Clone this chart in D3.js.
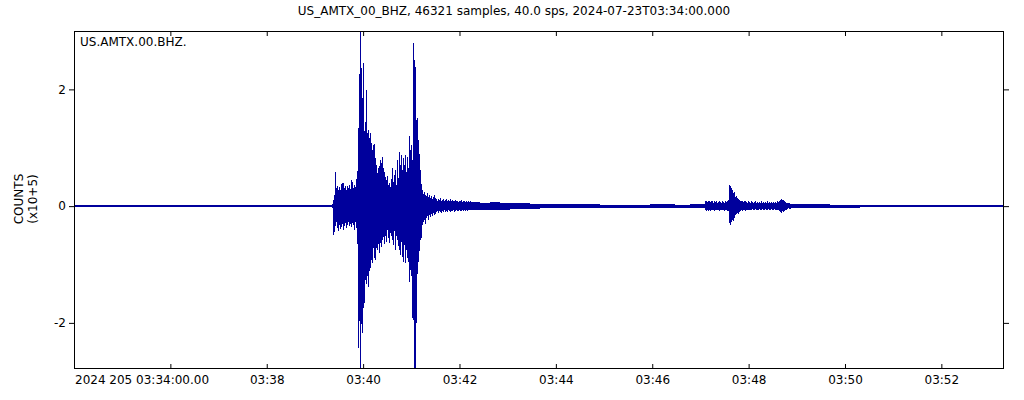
<!DOCTYPE html>
<html>
<head>
<meta charset="utf-8">
<script src="https://cdn.jsdelivr.net/npm/d3@7"></script>
<style>
  body { margin: 0; background: #fff; }
  svg { display: block; font-family: "DejaVu Sans", sans-serif; }
  .axis text { font-size: 12px; fill: #000; }
  .axis line { stroke: #000; }
</style>
</head>
<body>
<svg id="chart" width="1024" height="400"></svg>
<script>
// ---------- meta ----------
const stationId = "US_AMTX_00_BHZ";
const channelLabel = "US.AMTX.00.BHZ.";
const startTime = "2024-07-23T03:34:00Z";
const startLabel = "2024 205 03:34:00.00";
const nSamples = 46321;
const sampleRate = 40.0;
const yLabelLines = ["COUNTS", "(x10+5)"];

// ---------- axes ----------
const yTicks = [-2, 0, 2];
const yTickLabels = ["-2", "0", "2"];
const xTickTimes = ["03:36", "03:38", "03:40", "03:42", "03:44", "03:46", "03:48", "03:50", "03:52"];
const xTickLabels = ["", "03:38", "03:40", "03:42", "03:44", "03:46", "03:48", "03:50", "03:52"];

// ---------- envelope data (units: x10^5 counts, seconds from start) ----------
// quiet background noise envelope, coarse bins
const quietSec = [0, 32.4, 69.7, 107.1, 144.4, 181.8, 219.2, 256.5, 293.9,
  494.3, 505.6, 518.0, 530.5, 542.9, 555.4, 567.8, 580.3, 598.9, 623.8, 655.0, 686.1, 717.2, 748.4, 767.0,
  892.8, 905.3, 941.4, 978.7, 1028.5, 1078.3, 1115.7];
const quietHi = [0.018, 0.015, 0.02, 0.016, 0.018, 0.015, 0.02, 0.016, 0.018,
  0.07, 0.06, 0.07, 0.06, 0.05, 0.05, 0.04, 0.04, 0.03, 0.03, 0.025, 0.025, 0.03, 0.025, 0.03,
  0.04, 0.03, 0.025, 0.02, 0.018, 0.02, 0.018];
const quietLo = [-0.015, -0.016, -0.015, -0.018, -0.015, -0.016, -0.015, -0.018, -0.016,
  -0.07, -0.07, -0.06, -0.06, -0.05, -0.05, -0.05, -0.04, -0.04, -0.03, -0.03, -0.025, -0.025, -0.03, -0.03,
  -0.04, -0.03, -0.025, -0.02, -0.018, -0.018, -0.02];

// main event (regular bins)
const event1StartSec = 321.3;
const event2StartSec = 785.7;
const binSec = 1.2452;
const event1Hi = [
  0.03,0.10,0.19,0.58,0.31,0.34,0.27,0.33,0.27,0.38,
  0.39,0.39,0.31,0.34,0.27,0.34,0.31,0.36,0.29,0.45,
  0.41,0.31,0.36,0.33,0.46,0.60,1.34,2.26,3.30,2.37,
  1.85,2.45,1.29,1.44,1.99,1.25,1.30,1.17,1.25,1.08,
  0.96,1.05,1.06,0.82,0.70,0.57,0.65,0.69,0.79,0.74,
  0.84,0.65,0.58,0.50,0.45,0.51,0.36,0.39,0.33,0.46,
  0.65,0.41,0.53,0.62,0.36,0.79,0.48,0.93,0.70,0.87,
  0.62,0.82,0.70,0.87,0.58,0.84,0.65,1.20,0.96,1.05,
  0.79,2.79,2.50,2.38,1.47,1.51,1.13,0.89,0.62,0.38,
  0.27,0.21,0.24,0.19,0.17,0.22,0.15,0.19,0.14,0.17,
  0.12,0.15,0.19,0.14,0.12,0.09,0.12,0.10,0.14,0.09,
  0.10,0.12,0.09,0.10,0.12,0.09,0.10,0.09,0.12,
  0.09,0.10,0.08,0.09,0.10,0.08,0.09,0.07,0.09,0.08,0.10,0.07,0.08,0.09,0.07,0.08,0.07,0.09,0.07,0.08];
const event1Lo = [
  -0.03,-0.50,-0.45,-0.34,-0.27,-0.38,-0.43,-0.33,-0.39,-0.36,
  -0.31,-0.41,-0.34,-0.29,-0.38,-0.33,-0.27,-0.34,-0.31,-0.36,
  -0.29,-0.33,-0.41,-0.27,-0.38,-0.65,-2.43,-1.97,-3.10,-2.02,
  -2.18,-1.75,-1.66,-1.27,-1.34,-1.20,-1.39,-1.11,-1.06,-0.93,
  -0.98,-0.72,-0.89,-0.93,-0.72,-0.75,-0.65,-0.81,-0.63,-0.70,
  -0.58,-0.53,-0.65,-0.51,-0.62,-0.41,-0.55,-0.63,-0.46,-0.51,
  -0.58,-0.67,-0.43,-0.75,-0.51,-0.58,-0.69,-0.75,-0.84,-0.62,
  -0.87,-0.96,-0.67,-0.98,-0.75,-0.89,-0.96,-1.30,-1.10,-1.20,
  -1.92,-1.95,-3.10,-3.10,-2.01,-1.17,-0.96,-0.77,-0.58,-0.55,
  -0.33,-0.27,-0.24,-0.31,-0.21,-0.17,-0.24,-0.15,-0.19,-0.14,
  -0.17,-0.12,-0.15,-0.14,-0.10,-0.09,-0.12,-0.09,-0.10,-0.12,
  -0.09,-0.10,-0.07,-0.10,-0.09,-0.10,-0.07,-0.09,-0.10,
  -0.08,-0.09,-0.07,-0.10,-0.08,-0.07,-0.09,-0.08,-0.07,-0.09,-0.08,-0.07,-0.08,-0.07,-0.09,-0.07,-0.08,-0.07,-0.06,-0.07];

// later small event (regular bins)
const event2Hi = [
  0.09,0.08,0.07,0.09,0.08,0.07,0.09,0.08,0.06,0.08,
  0.07,0.08,0.06,0.07,0.09,0.07,0.06,0.08,0.07,0.06,
  0.08,0.07,0.09,0.10,0.36,0.34,0.31,0.27,0.22,0.24,
  0.15,0.17,0.14,0.12,0.10,0.09,0.08,0.09,0.07,0.08,
  0.09,0.07,0.06,0.08,0.07,0.06,0.08,0.07,0.06,0.07,
  0.08,0.06,0.07,0.06,0.07,0.06,0.08,0.06,0.07,0.06,
  0.07,0.06,0.08,0.06,0.07,0.06,0.07,0.06,0.07,0.06,
  0.07,0.06,0.08,0.07,0.09,0.11,0.12,0.10,0.11,0.08,
  0.07,0.06,0.05,0.06,0.05,0.04];
const event2Lo = [
  -0.07,-0.08,-0.06,-0.08,-0.07,-0.08,-0.06,-0.07,-0.06,-0.08,
  -0.07,-0.06,-0.07,-0.06,-0.08,-0.07,-0.06,-0.07,-0.06,-0.08,
  -0.07,-0.06,-0.08,-0.09,-0.29,-0.33,-0.27,-0.24,-0.26,-0.21,
  -0.15,-0.14,-0.12,-0.14,-0.10,-0.08,-0.07,-0.08,-0.07,-0.06,
  -0.08,-0.07,-0.06,-0.07,-0.06,-0.07,-0.06,-0.05,-0.07,-0.06,
  -0.05,-0.07,-0.06,-0.06,-0.05,-0.07,-0.06,-0.05,-0.06,-0.07,
  -0.05,-0.06,-0.06,-0.05,-0.07,-0.06,-0.05,-0.06,-0.07,-0.05,
  -0.06,-0.06,-0.07,-0.06,-0.08,-0.10,-0.11,-0.09,-0.10,-0.08,
  -0.06,-0.06,-0.05,-0.04,-0.05,-0.05];

// ---------- build ----------
const t0 = Date.parse(startTime);
const durSec = (nSamples - 1) / sampleRate;
const env = [];
quietSec.forEach((s, i) => env.push({ s, hi: quietHi[i], lo: quietLo[i] }));
event1Hi.forEach((h, i) => env.push({ s: event1StartSec + i * binSec, hi: h, lo: event1Lo[i] }));
event2Hi.forEach((h, i) => env.push({ s: event2StartSec + i * binSec, hi: h, lo: event2Lo[i] }));
env.sort((a, b) => a.s - b.s);
env.push({ s: durSec, hi: env[env.length - 1].hi, lo: env[env.length - 1].lo });

const svg = d3.select("#chart");
const L = 74, R = 1004, T = 31, B = 369;

const x = d3.scaleUtc()
  .domain([new Date(t0), new Date(t0 + durSec * 1000)])
  .range([L, R]);
const y = d3.scaleLinear().domain([-2.79, 3.0]).range([B, T]);

const toDate = hm => new Date(Date.parse("2024-07-23T" + hm + ":00Z"));
const xTickDates = xTickTimes.map(toDate);

svg.append("defs").append("clipPath").attr("id", "clip")
  .append("rect").attr("x", L).attr("y", T).attr("width", R - L).attr("height", B - T);

// waveform envelope
const area = d3.area()
  .curve(d3.curveStepAfter)
  .x(d => x(new Date(t0 + d.s * 1000)))
  .y0(d => y(d.lo))
  .y1(d => y(d.hi));

svg.append("path")
  .datum(env)
  .attr("clip-path", "url(#clip)")
  .attr("d", area)
  .attr("fill", "#00009c")
  .attr("stroke", "none")
  .attr("shape-rendering", "crispEdges");

// axes
const gB = svg.append("g").attr("class", "axis").attr("transform", `translate(0,${B})`)
  .call(d3.axisBottom(x).tickValues(xTickDates).tickSize(-5).tickPadding(6)
    .tickFormat((d, i) => xTickLabels[i]));
const gT = svg.append("g").attr("class", "axis").attr("transform", `translate(0,${T})`)
  .call(d3.axisTop(x).tickValues(xTickDates).tickSize(-5).tickFormat(""));
const gL = svg.append("g").attr("class", "axis").attr("transform", `translate(${L},0)`)
  .call(d3.axisLeft(y).tickValues(yTicks).tickSize(5).tickPadding(3)
    .tickFormat((d, i) => yTickLabels[i]));
const gR = svg.append("g").attr("class", "axis").attr("transform", `translate(${R},0)`)
  .call(d3.axisRight(y).tickValues(yTicks).tickSize(5).tickFormat(""));
[gB, gT, gL, gR].forEach(g => g.select(".domain").remove());
svg.selectAll(".axis text").attr("font-family", "DejaVu Sans, sans-serif").attr("font-size", 12);

// frame
svg.append("rect").attr("x", L + 0.5).attr("y", T + 0.5)
  .attr("width", R - L - 1).attr("height", B - T - 1)
  .attr("fill", "none").attr("stroke", "#000").attr("stroke-width", 1);

// start label
svg.append("text").attr("x", L + 1).attr("y", 384)
  .attr("font-size", 12).text(startLabel);

// title
svg.append("text").attr("x", 514).attr("y", 15).attr("text-anchor", "middle")
  .attr("font-size", 12)
  .text(`${stationId}, ${nSamples} samples, ${sampleRate.toFixed(1)} sps, 2024-07-23T03:34:00.000`);

// channel label
svg.append("text").attr("x", 80).attr("y", 46).attr("font-size", 12).text(channelLabel);

// y label
yLabelLines.forEach((t, i) => {
  svg.append("text")
    .attr("transform", `translate(${23 + i * 14},199) rotate(-90)`)
    .attr("text-anchor", "middle").attr("font-size", 12).text(t);
});
</script>
</body>
</html>
